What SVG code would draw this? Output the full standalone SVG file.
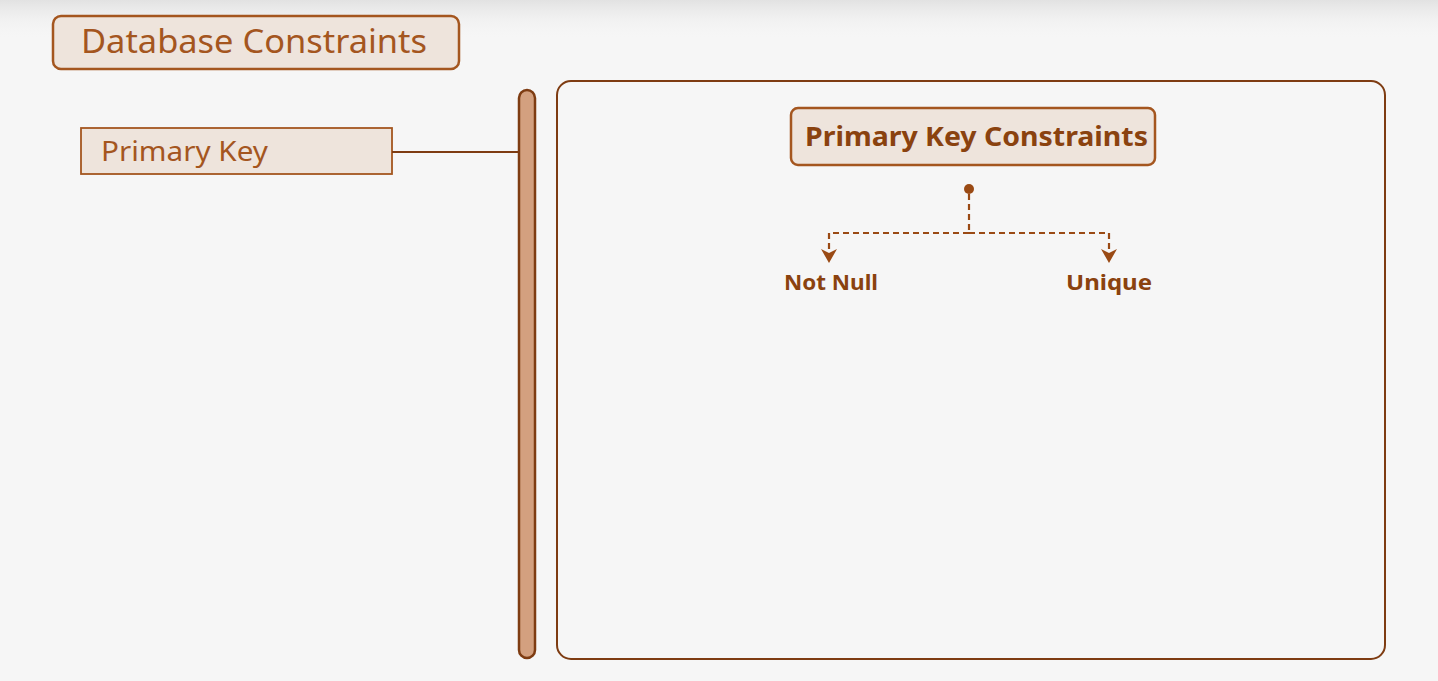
<svg xmlns="http://www.w3.org/2000/svg" width="1438" height="681" viewBox="0 0 1438 681">
<defs>
<linearGradient id="topShade" x1="0" y1="0" x2="0" y2="1">
<stop offset="0" stop-color="#e2e2e2"/>
<stop offset="1" stop-color="#f6f6f6" stop-opacity="0"/>
</linearGradient>
<marker id="arrow" viewBox="0 0 14 16" refX="14" refY="8" markerWidth="14" markerHeight="16" markerUnits="userSpaceOnUse" orient="auto">
<path d="M0,0 L14,8 L0,16 L4,8 Z" fill="#9a4a14"/>
</marker>
<style>
.box{fill:#eee4dc;stroke:#a4561f;}
.lbl{font-family:"Noto Sans","Liberation Sans",sans-serif;fill:#a4561f;}
.bold{font-family:"Noto Sans","Liberation Sans",sans-serif;font-weight:bold;fill:#8a420f;}
.dash{fill:none;stroke:#9a4a14;stroke-width:2.2;stroke-dasharray:6 4;}
</style>
</defs>
<rect width="1438" height="681" fill="#f6f6f6"/>
<rect width="1438" height="40" fill="url(#topShade)"/>

<g id="title">
<rect class="box" x="53" y="16" width="406" height="53" rx="8" stroke-width="2.5"/>
<text class="lbl" x="81" y="53" font-size="32" textLength="346" lengthAdjust="spacingAndGlyphs">Database Constraints</text>
</g>

<g id="primary-key">
<rect class="box" x="81" y="128" width="311" height="46" stroke-width="1.8"/>
<text class="lbl" x="101" y="161" font-size="27" textLength="167" lengthAdjust="spacingAndGlyphs">Primary Key</text>
</g>

<g id="divider">
<rect x="519" y="90" width="16" height="568" rx="8" fill="#d3a07f" stroke="#7e3c12" stroke-width="2.5"/>
</g>

<g id="panel">
<rect x="557" y="81" width="828" height="578" rx="14" fill="none" stroke="#7e3c12" stroke-width="2"/>
</g>

<g id="pk-constraints">
<rect class="box" x="791" y="108" width="364" height="57" rx="7" stroke-width="2.5"/>
<text class="bold" x="805" y="146" font-size="26" textLength="343" lengthAdjust="spacingAndGlyphs">Primary Key Constraints</text>
</g>

<g id="not-null">
<text class="bold" x="784" y="290" font-size="22" textLength="94" lengthAdjust="spacingAndGlyphs">Not Null</text>
</g>

<g id="unique">
<text class="bold" x="1066" y="290" font-size="22" textLength="86" lengthAdjust="spacingAndGlyphs">Unique</text>
</g>

<g id="connectors">
<line x1="392" y1="152" x2="520" y2="152" stroke="#7e3c12" stroke-width="1.8"/>
<circle cx="969" cy="189" r="5" fill="#9a4a14"/>
<path class="dash" d="M969,194 L969,233"/>
<path class="dash" d="M969,233 L829,233 L829,263" marker-end="url(#arrow)"/>
<path class="dash" d="M969,233 L1109,233 L1109,263" marker-end="url(#arrow)"/>
</g>
</svg>
